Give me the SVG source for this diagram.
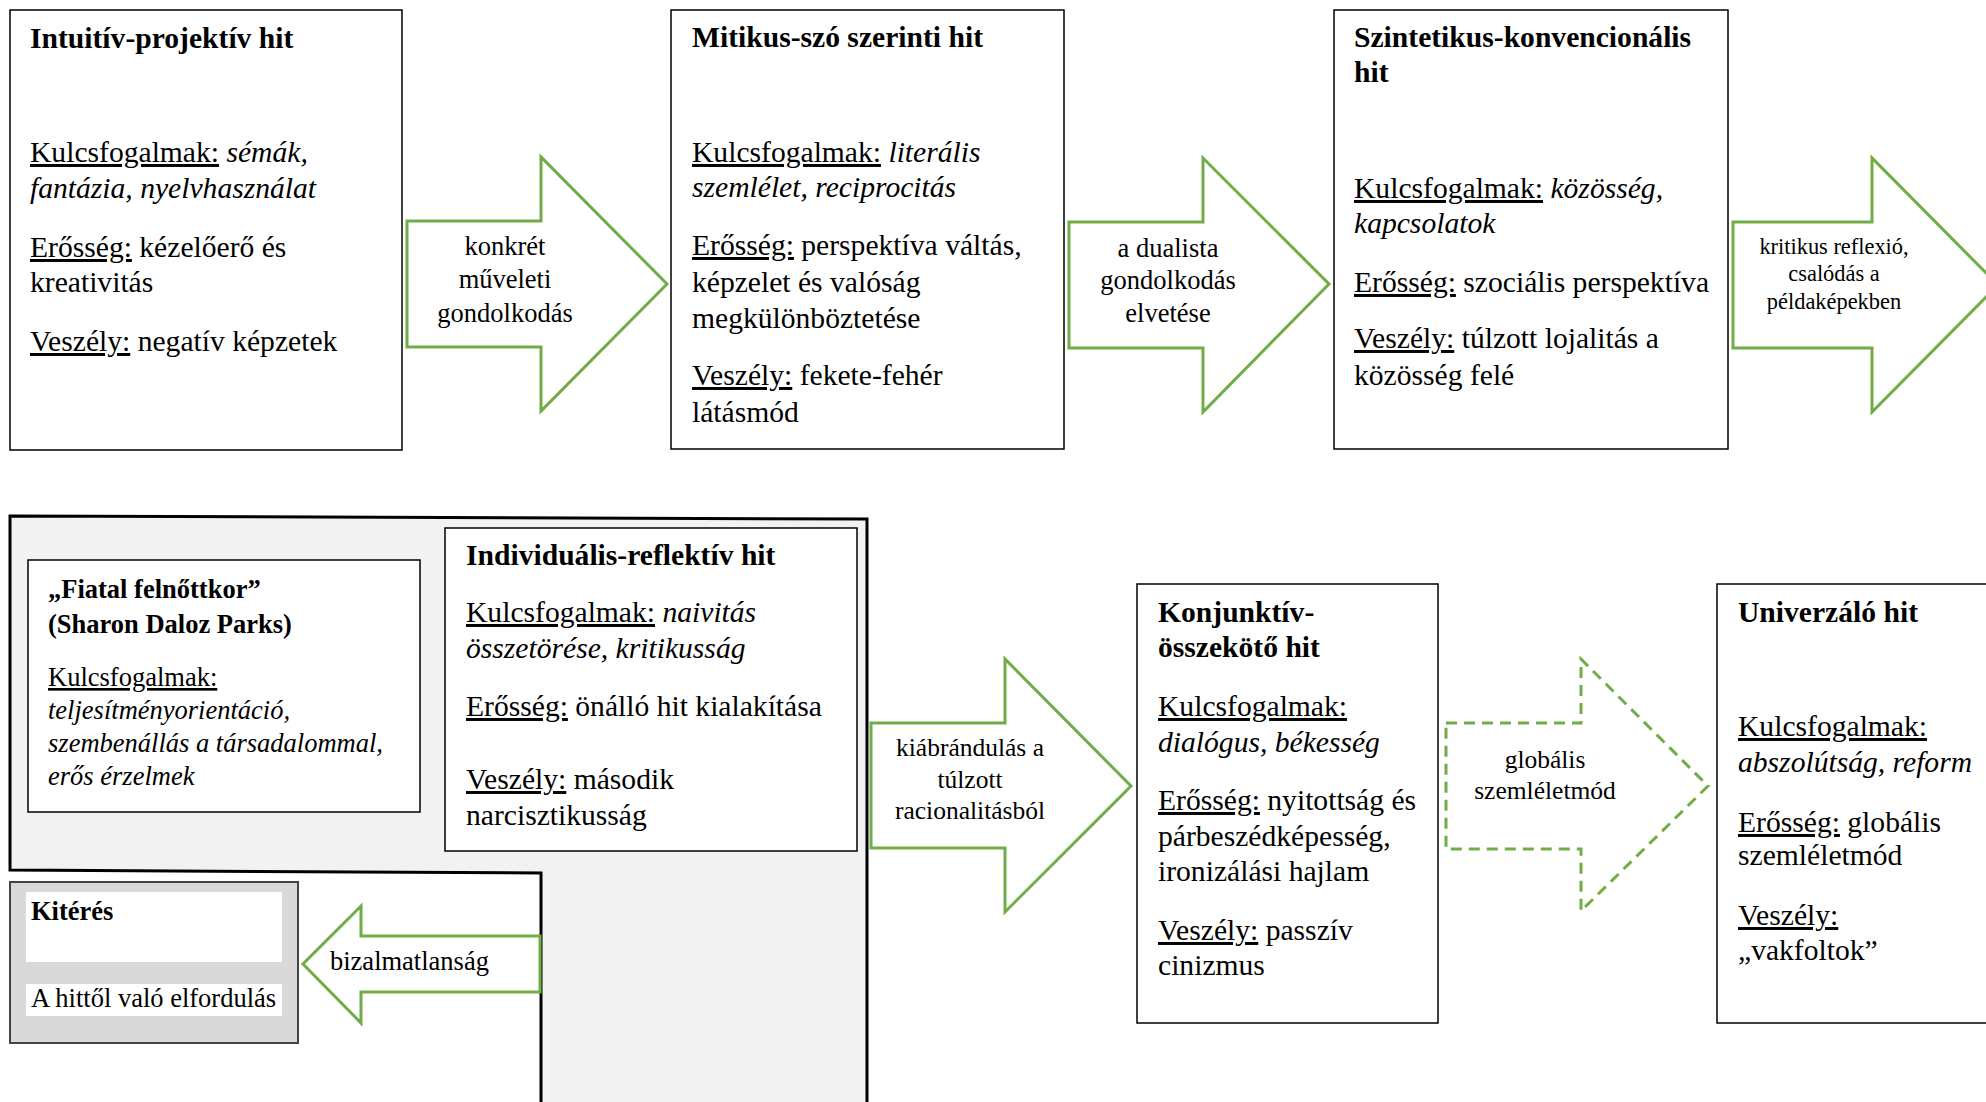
<svg xmlns="http://www.w3.org/2000/svg" width="1986" height="1102" viewBox="0 0 1986 1102">
<style>
.t{font-family:"Liberation Serif","Times New Roman",serif;font-size:29.6px;fill:#000}
.s26{font-size:26.5px}
.s25{font-size:25.5px}
.s22{font-size:22.4px}
.b{font-weight:bold}
.i{font-style:italic}
.u{text-decoration:underline}
.m{text-anchor:middle}
.box{fill:#fff;stroke:#000;stroke-width:1.5}
.arrow{fill:#fff;stroke:#70ad47;stroke-width:3;stroke-linejoin:miter}
.dash{stroke-dasharray:11 7}
</style>
<rect width="1986" height="1102" fill="#fff"/>

<g id="group-young-adult">
<polygon points="10,516 867,519 867,1110 541,1110 541,873 10,870" fill="#f2f2f2" stroke="#000" stroke-width="3"/>
</g>

<g id="connectors">
<polygon class="arrow" points="407,221 541,221 541,157 667,284 541,411 541,347 407,347"/>
<polygon class="arrow" points="1069,222 1203,222 1203,158 1329,284 1203,412 1203,348 1069,348"/>
<polygon class="arrow" points="1733,222 1872,222 1872,158 1998,285 1872,412 1872,348 1733,348"/>
<polygon class="arrow" points="871,723 1005,723 1005,659 1131,786 1005,912 1005,848 871,848"/>
<polygon class="arrow dash" points="1446,723 1581,723 1581,659 1708,786 1581,911 1581,849 1446,849"/>
<polygon class="arrow" points="540,936 361,936 361,906 303,964 361,1023 361,992 540,992"/>
<text class="t s26 m"><tspan x="505" y="255">konkrét</tspan><tspan x="505" y="288">műveleti</tspan><tspan x="505" y="322">gondolkodás</tspan></text>
<text class="t s26 m"><tspan x="1168" y="257">a dualista</tspan><tspan x="1168" y="289">gondolkodás</tspan><tspan x="1168" y="322">elvetése</tspan></text>
<text class="t s22 m"><tspan x="1834" y="254">kritikus reflexió,</tspan><tspan x="1834" y="281">csalódás a</tspan><tspan x="1834" y="309">példaképekben</tspan></text>
<text class="t s25 m"><tspan x="970" y="756">kiábrándulás a</tspan><tspan x="970" y="788">túlzott</tspan><tspan x="970" y="819">racionalitásból</tspan></text>
<text class="t s25 m"><tspan x="1545" y="768">globális</tspan><tspan x="1545" y="799">szemléletmód</tspan></text>
<text class="t s26" x="330" y="970">bizalmatlanság</text>
</g>

<g id="intuitiv-projektiv">
<rect class="box" x="10" y="10" width="392" height="440"/>
<text class="t b" x="30" y="48">Intuitív-projektív hit</text>
<text class="t" x="30" y="162"><tspan class="u">Kulcsfogalmak:</tspan><tspan class="i"> sémák,</tspan></text>
<text class="t i" x="30" y="198">fantázia, nyelvhasználat</text>
<text class="t" x="30" y="257"><tspan class="u">Erősség:</tspan> kézelőerő és</text>
<text class="t" x="30" y="292">kreativitás</text>
<text class="t" x="30" y="351"><tspan class="u">Veszély:</tspan> negatív képzetek</text>
</g>

<g id="mitikus-szo-szerinti">
<rect class="box" x="671" y="10" width="393" height="439"/>
<text class="t b" x="692" y="47">Mitikus-szó szerinti hit</text>
<text class="t" x="692" y="162"><tspan class="u">Kulcsfogalmak:</tspan><tspan class="i"> literális</tspan></text>
<text class="t i" x="692" y="197">szemlélet, reciprocitás</text>
<text class="t" x="692" y="255"><tspan class="u">Erősség:</tspan> perspektíva váltás,</text>
<text class="t" x="692" y="292">képzelet és valóság</text>
<text class="t" x="692" y="328">megkülönböztetése</text>
<text class="t" x="692" y="385"><tspan class="u">Veszély:</tspan> fekete-fehér</text>
<text class="t" x="692" y="422">látásmód</text>
</g>

<g id="szintetikus-konvencionalis">
<rect class="box" x="1334" y="10" width="394" height="439"/>
<text class="t b" x="1354" y="47">Szintetikus-konvencionális</text>
<text class="t b" x="1354" y="82">hit</text>
<text class="t" x="1354" y="198"><tspan class="u">Kulcsfogalmak:</tspan><tspan class="i"> közösség,</tspan></text>
<text class="t i" x="1354" y="233">kapcsolatok</text>
<text class="t" x="1354" y="292"><tspan class="u">Erősség:</tspan> szociális perspektíva</text>
<text class="t" x="1354" y="348"><tspan class="u">Veszély:</tspan> túlzott lojalitás a</text>
<text class="t" x="1354" y="385">közösség felé</text>
</g>

<g id="fiatal-felnottkor">
<rect class="box" x="28" y="560" width="392" height="252"/>
<text class="t s26 b" x="48" y="598">„Fiatal felnőttkor”</text>
<text class="t s26 b" x="48" y="633">(Sharon Daloz Parks)</text>
<text class="t s26 u" x="48" y="686">Kulcsfogalmak:</text>
<text class="t s26 i" x="48" y="719">teljesítményorientáció,</text>
<text class="t s26 i" x="48" y="752">szembenállás a társadalommal,</text>
<text class="t s26 i" x="48" y="785">erős érzelmek</text>
</g>

<g id="individualis-reflektiv">
<rect class="box" x="445" y="528" width="412" height="323"/>
<text class="t b" x="466" y="565">Individuális-reflektív hit</text>
<text class="t" x="466" y="622"><tspan class="u">Kulcsfogalmak:</tspan><tspan class="i"> naivitás</tspan></text>
<text class="t i" x="466" y="658">összetörése, kritikusság</text>
<text class="t" x="466" y="716"><tspan class="u">Erősség:</tspan> önálló hit kialakítása</text>
<text class="t" x="466" y="789"><tspan class="u">Veszély:</tspan> második</text>
<text class="t" x="466" y="825">narcisztikusság</text>
</g>

<g id="kiteres">
<rect x="10" y="882" width="288" height="161" fill="#d9d9d9" stroke="#444" stroke-width="2"/>
<rect x="26" y="892" width="256" height="70" fill="#fff"/>
<rect x="26" y="984" width="256" height="32" fill="#fff"/>
<text class="t s26 b" x="31" y="920">Kitérés</text>
<text class="t s26" x="31" y="1007">A hittől való elfordulás</text>
</g>

<g id="konjunktiv-osszekoto">
<rect class="box" x="1137" y="584" width="301" height="439"/>
<text class="t b" x="1158" y="622">Konjunktív-</text>
<text class="t b" x="1158" y="657">összekötő hit</text>
<text class="t u" x="1158" y="716">Kulcsfogalmak:</text>
<text class="t i" x="1158" y="752">dialógus, békesség</text>
<text class="t" x="1158" y="810"><tspan class="u">Erősség:</tspan> nyitottság és</text>
<text class="t" x="1158" y="846">párbeszédképesség,</text>
<text class="t" x="1158" y="881">ironizálási hajlam</text>
<text class="t" x="1158" y="940"><tspan class="u">Veszély:</tspan> passzív</text>
<text class="t" x="1158" y="975">cinizmus</text>
</g>

<g id="univerzalo">
<rect class="box" x="1717" y="584" width="300" height="439"/>
<text class="t b" x="1738" y="622">Univerzáló hit</text>
<text class="t u" x="1738" y="736">Kulcsfogalmak:</text>
<text class="t i" x="1738" y="772">abszolútság, reform</text>
<text class="t" x="1738" y="832"><tspan class="u">Erősség:</tspan> globális</text>
<text class="t" x="1738" y="865">szemléletmód</text>
<text class="t u" x="1738" y="925">Veszély:</text>
<text class="t" x="1738" y="960">„vakfoltok”</text>
</g>
</svg>
